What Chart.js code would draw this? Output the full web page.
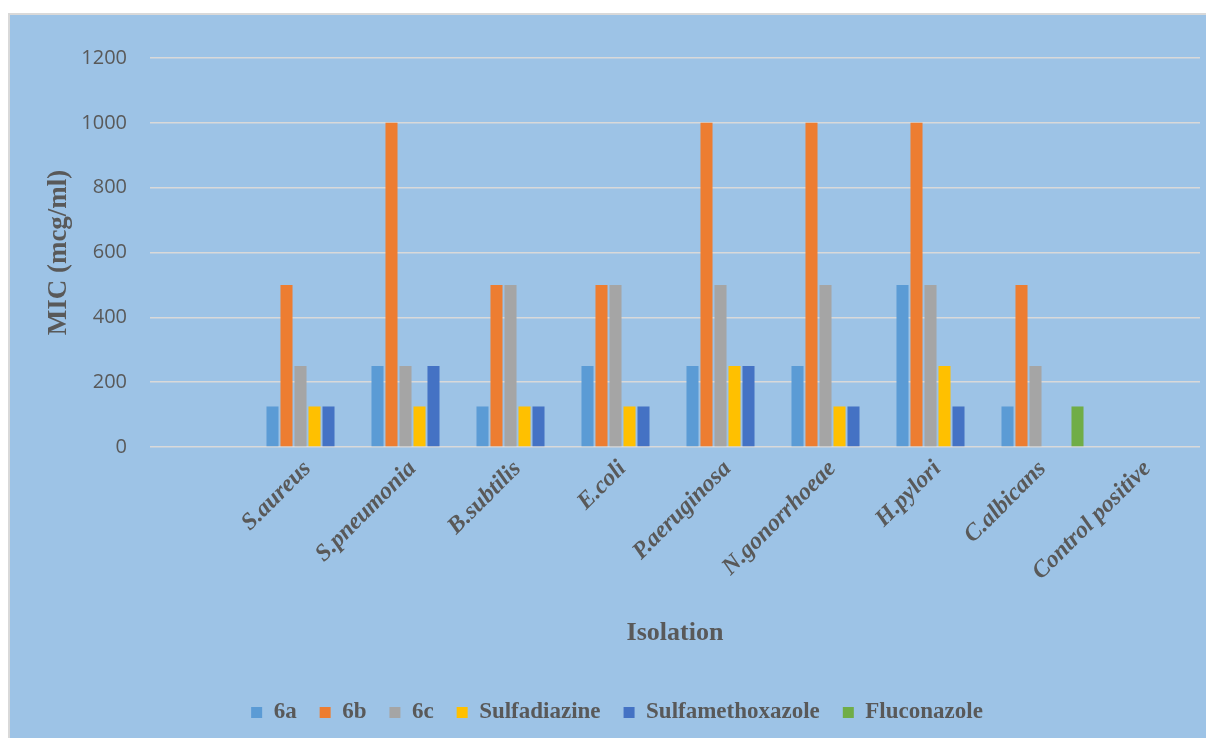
<!DOCTYPE html>
<html>
<head>
<meta charset="utf-8">
<script src="https://cdn.jsdelivr.net/npm/chart.js@4"></script>
<style>
    html, body {
        margin: 0;
        padding: 0;
        background: #ffffff;
        overflow: hidden;
    }
    #frame {
        position: absolute;
        left: 8px;
        top: 13px;
        width: 1198px;
        height: 725px;
        background: #9dc3e6;
        border-left: 2px solid #d9d9d9;
        border-top: 2px solid #d9d9d9;
    }
    #wrap {
        position: absolute;
        left: 0;
        top: 0;
        width: 1196px;
        height: 723px;
    }
</style>
</head>
<body>
<div id="frame">
    <div id="wrap"><canvas id="micChart"></canvas></div>
</div>
<script>
const isolates = ["", "S.aureus", "S.pneumonia", "B.subtilis", "E.coli", "P.aeruginosa",
    "N.gonorrhoeae", "H.pylori", "C.albicans", "Control positive"];

const mic6a = [null, 125, 250, 125, 250, 250, 250, 500, 125, null];
const mic6b = [null, 500, 1000, 500, 500, 1000, 1000, 1000, 500, null];
const mic6c = [null, 250, 250, 500, 500, 500, 500, 500, 250, null];
const micSulfadiazine = [null, 125, 125, 125, 125, 250, 125, 250, null, null];
const micSulfamethoxazole = [null, 125, 250, 125, 125, 250, 125, 125, null, null];
const micFluconazole = [null, null, null, null, null, null, null, null, 125, null];

const yTicks = [0, 200, 400, 600, 800, 1000, 1200];

const textColor = "#595959";
const gridColor = "#d9d9d9";
const serif = "'Liberation Serif', 'Times New Roman', serif";

function makeSet(label, data, color) {
    return {
        label,
        data,
        backgroundColor: color,
        borderWidth: 0,
        categoryPercentage: 0.8,
        barPercentage: 0.86
    };
}

new Chart(document.getElementById("micChart"), {
    type: "bar",
    data: {
        labels: isolates,
        datasets: [
            makeSet("6a", mic6a, "#5b9bd5"),
            makeSet("6b", mic6b, "#ed7d31"),
            makeSet("6c", mic6c, "#a5a5a5"),
            makeSet("Sulfadiazine", micSulfadiazine, "#ffc000"),
            makeSet("Sulfamethoxazole", micSulfamethoxazole, "#4472c4"),
            makeSet("Fluconazole", micFluconazole, "#70ad47")
        ]
    },
    options: {
        responsive: true,
        maintainAspectRatio: false,
        animation: false,
        layout: {
            padding: { left: 24, right: 6, top: 43, bottom: 4 }
        },
        scales: {
            y: {
                min: 0,
                max: 1200,
                afterBuildTicks: (axis) => {
                    axis.ticks = yTicks.map(v => ({ value: v }));
                },
                afterFit: (axis) => {
                    axis.width = 116;
                },
                ticks: {
                    padding: 23,
                    color: textColor,
                    callback: (value) => String(value),
                    font: { family: "'Open Sans', sans-serif", size: 20 }
                },
                grid: {
                    color: gridColor,
                    lineWidth: 1.5,
                    drawTicks: false
                },
                border: { display: false },
                title: {
                    display: true,
                    text: "MIC (mcg/ml)",
                    color: textColor,
                    padding: { top: 9, bottom: 0 },
                    font: { family: serif, size: 27, weight: "bold" }
                }
            },
            x: {
                afterFit: (axis) => {
                    axis.height = 231;
                },
                ticks: {
                    minRotation: 45,
                    maxRotation: 45,
                    autoSkip: false,
                    padding: 8,
                    color: textColor,
                    font: { family: serif, size: 24, weight: "bold", style: "italic" }
                },
                grid: { display: false, drawTicks: false },
                border: { display: false },
                title: {
                    display: true,
                    text: "Isolation",
                    color: textColor,
                    padding: { top: 0, bottom: 29 },
                    font: { family: serif, size: 26, weight: "bold" }
                }
            }
        },
        plugins: {
            legend: {
                position: "bottom",
                labels: {
                    boxWidth: 11,
                    boxHeight: 11,
                    padding: 23,
                    color: textColor,
                    font: { family: serif, size: 23, weight: "bold" }
                }
            },
            tooltip: { enabled: false }
        }
    }
});
</script>
</body>
</html>
